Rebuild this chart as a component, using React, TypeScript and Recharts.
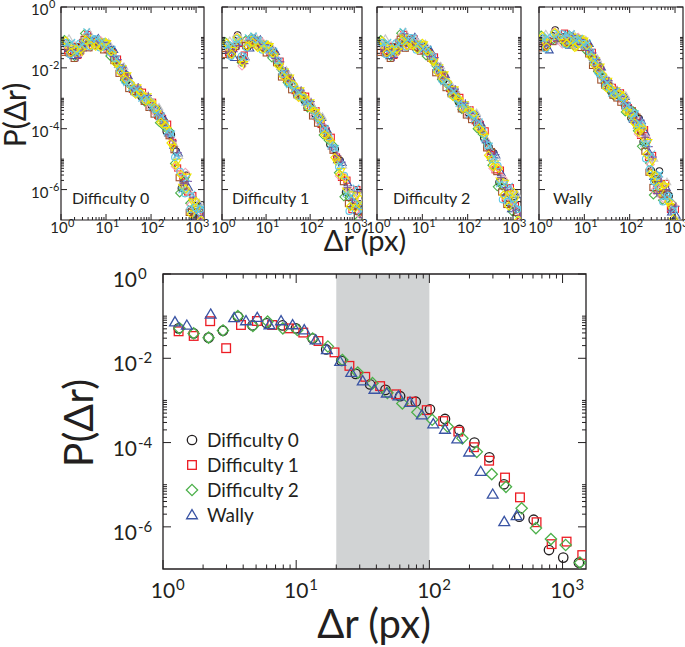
import React from 'react';
import { ScatterChart, Scatter, XAxis, YAxis, ReferenceArea } from 'recharts';

const FONT = 'Lato, "Open Sans", Arial, sans-serif';
const INK = '#231f20';

// ---------- Aggregated data (bottom chart): Δr in px, log10 P(Δr) ----------
const D0_X = [1.31, 1.7, 2.2, 2.82, 3.65, 4.7, 6.0, 7.9, 9.95, 13.3, 16.8, 21.8, 28, 35.9, 46.8, 60.3, 79, 101, 131, 168, 218, 282, 363, 473, 607, 791, 1012, 1327];
const D0_LOGP = [-1.29, -1.41, -1.51, -1.345, -1.01, -1.22, -1.17, -1.22, -1.29, -1.53, -1.79, -2.06, -2.37, -2.62, -2.75, -2.9, -3.03, -3.21, -3.44, -3.7, -4.0, -4.35, -4.99, -5.76, -5.83, -6.55, -6.73, -6.85];

const D1_X = [1.31, 1.7, 2.26, 2.98, 3.85, 5.07, 6.6, 8.8, 11.3, 14.7, 19.4, 25.1, 33, 42.7, 56.3, 73.8, 95.6, 127, 165, 216, 281, 370, 479, 638, 828, 1072, 1406];
const D1_LOGP = [-1.36, -1.47, -1.12, -1.76, -1.21, -1.115, -1.21, -1.29, -1.39, -1.59, -1.86, -2.18, -2.44, -2.66, -2.855, -3.03, -3.23, -3.49, -3.74, -4.11, -4.43, -4.83, -5.3, -5.89, -6.41, -6.35, -6.67];

const D2_X = [1.33, 1.7, 2.2, 2.82, 3.65, 4.73, 6.1, 7.94, 10.2, 13.3, 17.3, 22.2, 29, 37.4, 48.4, 62.7, 81.3, 105, 137, 177, 227, 294, 376, 493, 631, 818, 1055, 1350];
const D2_LOGP = [-1.29, -1.41, -1.51, -1.34, -1.0, -1.234, -1.13, -1.29, -1.33, -1.53, -1.72, -2.04, -2.34, -2.59, -2.82, -3.07, -3.28, -3.46, -3.62, -3.9, -4.22, -4.75, -5.05, -5.56, -6.03, -6.29, -6.43, -6.85];

const D3_X = [1.23, 1.51, 2.28, 3.42, 4.2, 5.1, 6.3, 7.7, 9.4, 11.5, 14, 17, 21.4, 25.9, 31.6, 38.7, 47.9, 58.6, 71.6, 87.7, 107, 131, 162, 199, 243, 299, 365, 452];
const D3_LOGP = [-1.14, -1.22, -0.957, -1.04, -1.115, -1.037, -1.21, -1.115, -1.21, -1.33, -1.57, -1.8, -2.08, -2.34, -2.54, -2.74, -2.83, -2.9, -3.05, -3.35, -3.56, -3.69, -3.92, -4.23, -4.69, -5.23, -5.88, -5.74];

// Wally individual players extend further than the aggregate
const WALLY_TAIL_X = [580, 740, 950];
const WALLY_TAIL_LOGP = [-6.1, -6.45, -6.75];

const SERIES_NAMES = ['Difficulty 0', 'Difficulty 1', 'Difficulty 2', 'Wally'];
const SERIES_COLORS = ['#231f20', '#ed1c24', '#4cb04a', '#3a54a4'];
const SERIES_SHAPES = ['circle', 'square', 'diamond', 'triangle'];
const PANEL_LABELS = ['Difficulty 0', 'Difficulty 1', 'Difficulty 2', 'Wally'];

// ---------- Individual players (top panels): deviations from the panel's aggregate ----------
// shift along Δr (hundredths of a decade) and deviation of log10 P (hundredths of a decade)
const PLAYER_COLORS = ['#231f20', '#ed1c24', '#4cb04a', '#3a54a4', '#f4a6b8', '#c8c8c8', '#a0522d', '#f2e600', '#5ec8e5', '#7b4fa0', '#f2e600', '#5ec8e5'];
const PLAYER_SHAPES = ['circle', 'square', 'diamond', 'triangle', 'diamond', 'triangle', 'square', 'triangleDown', 'circle', 'plus', 'diamond', 'x'];
const PLAYER_XSHIFT = [0, 3, -4, 5, -2, 6, -5, 2, -3, 4, -1, 1];
const PLAYER_DEV = [
  [10, -5, 20, 5, -10, 8, 3, -6, 4, 10, -3, 6, -8, 5, 2, -4, 7, -2, 5, 12, -8, 15, 25, -20, 30, -15, 20, 35, -10, 25, -30],
  [-15, 12, -8, 18, 10, -5, 9, 4, -10, 2, 8, -6, 3, -9, 6, 10, -5, 8, -12, 4, 15, -10, -30, 20, -25, 35, -10, -20, 30, -20, 10],
  [22, 15, -12, -6, 14, 12, -7, 10, 6, -8, 5, 9, -4, 7, -6, 3, -9, 12, 6, -10, 5, 28, -15, -35, 15, 10, -30, 5, -25, 15, 30],
  [-8, -20, 5, 12, -15, 3, 14, -9, 8, 12, -10, 2, 10, -3, 9, -8, 4, -6, 10, 8, -15, -20, 18, 10, -10, -35, 25, -25, 15, -30, -10],
  [5, 8, 15, -18, 6, -10, -4, 12, -5, 6, 12, -9, 6, 11, -10, 7, 10, -10, -4, 15, 10, 8, -25, 30, 40, 5, -15, 15, -20, 10, 25],
  [25, 20, 10, 8, 18, 14, 10, 6, 12, -6, -12, 10, -10, 4, 8, -12, 2, 5, 14, -6, -12, -15, 10, -10, -20, 25, 30, -10, 35, -15, -25],
  [-20, -10, -18, 4, -6, -12, 6, -3, -12, 9, 3, -12, 8, -6, -3, 12, -7, -9, -8, 10, 20, 12, 30, 15, -5, -20, -5, 10, -5, 30, 15],
  [0, 5, -5, -12, 2, 6, -10, 8, 10, -4, -8, 5, 12, -10, 11, -2, 9, 3, -6, -12, -5, -25, -10, -15, 25, 15, 10, -35, 20, -10, -35],
  [12, -15, 8, 15, -12, -8, 12, -12, 3, 4, 10, -3, -6, 9, -8, 6, -3, 10, 8, 6, 18, 20, 5, 35, -30, -10, 15, 20, -30, 25, 5],
  [-12, 0, -15, -10, 12, 10, -2, 5, -8, -10, 6, 8, 4, -7, 12, -6, 12, -4, -10, -14, -18, -5, 20, -5, 10, 30, -25, 0, 10, -25, 20],
  [18, -8, 12, -4, -8, -4, -12, -10, 14, 7, -6, -10, -2, 12, -12, 9, -6, 7, 12, -8, 8, -12, -20, 25, -15, -25, 35, -15, 25, 5, -20],
  [8, 25, -2, 10, 20, 16, 12, 9, -4, 14, 9, 4, -12, -4, 5, -10, 6, -8, -6, 12, -10, 18, 12, -25, 20, 40, -5, 25, -15, 20, 10],
];

// ---------- Axes ----------
const X_DOMAIN = [1, 1500];
const Y_DOMAIN = [1e-7, 1];
const X_MAJOR = [1, 10, 100, 1000];
const X_MAJOR_LABELS = ['0', '1', '2', '3'];
const X_MINOR = [2, 3, 4, 5, 6, 7, 8, 9, 20, 30, 40, 50, 60, 70, 80, 90, 200, 300, 400, 500, 600, 700, 800, 900];
const Y_MAJOR = [1, 1e-2, 1e-4, 1e-6];
const Y_MAJOR_LABELS = ['0', '-2', '-4', '-6'];
const Y_MINOR = [0.1, 0.09, 0.08, 0.07, 0.06, 0.05, 0.04, 0.03, 0.02, 1e-3, 9e-4, 8e-4, 7e-4, 6e-4, 5e-4, 4e-4, 3e-4, 2e-4, 1e-5, 9e-6, 8e-6, 7e-6, 6e-6, 5e-6, 4e-6, 3e-6, 2e-6];
const BAND = [20, 100];

type Pt = { x: number; y: number };

const toPoints = (xs: number[], logp: number[]): Pt[] => xs.map((x, i) => ({ x, y: Math.pow(10, logp[i]) }));

const BOTTOM_SERIES = [
  toPoints(D0_X, D0_LOGP),
  toPoints(D1_X, D1_LOGP),
  toPoints(D2_X, D2_LOGP),
  toPoints(D3_X, D3_LOGP),
];

const TOP_BASES = [
  { x: D0_X, logp: D0_LOGP },
  { x: D1_X, logp: D1_LOGP },
  { x: D2_X, logp: D2_LOGP },
  { x: [...D3_X, ...WALLY_TAIL_X], logp: [...D3_LOGP, ...WALLY_TAIL_LOGP] },
];

const playerPoints = (panel: number, p: number): Pt[] => {
  const b = TOP_BASES[panel];
  const dev = PLAYER_DEV[p];
  return b.x.map((x, i) => ({ x: x * Math.pow(10, PLAYER_XSHIFT[p] / 100), y: Math.pow(10, b.logp[i] + (dev[i] ?? 0) / 100) }));
};

// ---------- Markers ----------
function Marker(props: { cx?: number; cy?: number; kind: string; color: string; r: number; sw: number }) {
  const { cx, cy, kind, color, r, sw } = props;
  if (cx == null || cy == null || isNaN(cx) || isNaN(cy)) return <g />;
  const common = { fill: 'none', stroke: color, strokeWidth: sw };
  switch (kind) {
    case 'circle':
      return <circle cx={cx} cy={cy} r={r} {...common} />;
    case 'square':
      return <rect x={cx - r * 0.92} y={cy - r * 0.92} width={r * 1.84} height={r * 1.84} {...common} />;
    case 'diamond': {
      const d = r * 1.2;
      return <polygon points={`${cx},${cy - d} ${cx + d},${cy} ${cx},${cy + d} ${cx - d},${cy}`} {...common} />;
    }
    case 'triangle': {
      const w = r * 1.15;
      return <polygon points={`${cx},${cy - r * 1.15} ${cx + w},${cy + r * 0.8} ${cx - w},${cy + r * 0.8}`} {...common} />;
    }
    case 'triangleDown': {
      const w = r * 1.15;
      return <polygon points={`${cx},${cy + r * 1.15} ${cx + w},${cy - r * 0.8} ${cx - w},${cy - r * 0.8}`} {...common} />;
    }
    case 'x':
      return (
        <g stroke={color} strokeWidth={sw}>
          <line x1={cx - r} y1={cy - r} x2={cx + r} y2={cy + r} />
          <line x1={cx - r} y1={cy + r} x2={cx + r} y2={cy - r} />
        </g>
      );
    case 'plus':
    default:
      return (
        <g stroke={color} strokeWidth={sw}>
          <line x1={cx - r * 1.15} y1={cy} x2={cx + r * 1.15} y2={cy} />
          <line x1={cx} y1={cy - r * 1.15} x2={cx} y2={cy + r * 1.15} />
        </g>
      );
  }
}

// ---------- Tick rendering ----------
type TickCfg = {
  plotW: number; plotH: number;
  xMajor: number; xMinor: number; yMajor: number; yMinor: number;
  fs: number; fsExp: number;
  xBaseDx: number; xBaseDy: number; xExpDx: number; xExpDy: number;
  yBaseDx: number; yBaseDy: number; yExpDx: number; yExpDy: number;
  showY: boolean;
};

const near = (a: number, b: number) => Math.abs(a - b) <= Math.abs(b) * 1e-6;

function renderXTick(p: any, c: TickCfg) {
  const { x, y, payload } = p;
  const v = payload.value;
  const mi = X_MAJOR.findIndex((m) => near(v, m));
  const major = mi >= 0;
  const len = major ? c.xMajor : c.xMinor;
  const top = y - c.plotH;
  return (
    <g>
      <line x1={x} x2={x} y1={y} y2={y - len} stroke={INK} strokeWidth={1} />
      <line x1={x} x2={x} y1={top} y2={top + len} stroke={INK} strokeWidth={1} />
      {major && (
        <g fontFamily={FONT} fill={INK}>
          <text x={x + c.xBaseDx} y={y + c.xBaseDy} fontSize={c.fs} textAnchor="middle">10</text>
          <text x={x + c.xExpDx} y={y + c.xExpDy} fontSize={c.fsExp} textAnchor="start">{X_MAJOR_LABELS[mi]}</text>
        </g>
      )}
    </g>
  );
}

function renderYTick(p: any, c: TickCfg) {
  const { x, y, payload } = p;
  const v = payload.value;
  const mi = Y_MAJOR.findIndex((m) => near(v, m));
  const major = mi >= 0;
  const len = major ? c.yMajor : c.yMinor;
  const right = x + c.plotW;
  return (
    <g>
      <line x1={x} x2={x + len} y1={y} y2={y} stroke={INK} strokeWidth={1} />
      <line x1={right} x2={right - len} y1={y} y2={y} stroke={INK} strokeWidth={1} />
      {major && c.showY && (
        <g fontFamily={FONT} fill={INK}>
          <text x={x - c.yBaseDx} y={y + c.yBaseDy} fontSize={c.fs} textAnchor="end">10</text>
          <text x={x - c.yExpDx} y={y + c.yExpDy} fontSize={c.fsExp} textAnchor="start">{Y_MAJOR_LABELS[mi]}</text>
        </g>
      )}
    </g>
  );
}

type SeriesSpec = { key: string; data: Pt[]; kind: string; color: string; r: number; sw: number };

function LogChart(props: {
  box: { left: number; top: number; width: number; height: number };
  plot: { left: number; top: number; width: number; height: number };
  cfg: TickCfg;
  band?: number[];
  series: SeriesSpec[];
  frameW: number;
}) {
  const { box, plot, cfg, band, series, frameW } = props;
  const AX = 20;
  const margin = {
    left: plot.left - box.left - AX,
    top: plot.top - box.top,
    right: box.left + box.width - (plot.left + plot.width),
    bottom: box.top + box.height - (plot.top + plot.height) - AX,
  };
  return (
    <div style={{ position: 'absolute', left: box.left, top: box.top, width: box.width, height: box.height }}>
      <ScatterChart width={box.width} height={box.height} margin={margin}>
        <XAxis
          type="number"
          dataKey="x"
          scale="log"
          domain={X_DOMAIN}
          allowDataOverflow
          ticks={[...X_MAJOR, ...X_MINOR]}
          interval={0}
          tick={(p: any) => renderXTick(p, cfg)}
          tickLine={false}
          axisLine={false}
          tickSize={0}
          tickMargin={0}
          height={AX}
        />
        <YAxis
          type="number"
          dataKey="y"
          scale="log"
          domain={Y_DOMAIN}
          allowDataOverflow
          ticks={[...Y_MAJOR, ...Y_MINOR]}
          interval={0}
          tick={(p: any) => renderYTick(p, cfg)}
          tickLine={false}
          axisLine={false}
          tickSize={0}
          tickMargin={0}
          width={AX}
        />
        {band && (
          <ReferenceArea x1={band[0]} x2={band[1]} y1={Y_DOMAIN[0]} y2={Y_DOMAIN[1]} fill="#d1d3d4" fillOpacity={1} stroke="none" />
        )}
        {series.map((s) => (
          <Scatter
            key={s.key}
            name={s.key}
            data={s.data}
            isAnimationActive={false}
            shape={(p: any) => <Marker cx={p.cx} cy={p.cy} kind={s.kind} color={s.color} r={s.r} sw={s.sw} />}
          />
        ))}
        <ReferenceArea x1={X_DOMAIN[0]} x2={X_DOMAIN[1]} y1={Y_DOMAIN[0]} y2={Y_DOMAIN[1]} fill="none" fillOpacity={0} stroke={INK} strokeWidth={frameW} />
      </ScatterChart>
    </div>
  );
}

const TOP_PLOTS = [
  { left: 61, top: 7, width: 143, height: 213 },
  { left: 222, top: 7, width: 140, height: 213 },
  { left: 377, top: 7, width: 144, height: 213 },
  { left: 539, top: 7, width: 144, height: 213 },
];
const TOP_LABEL_X = [72, 232, 393, 553];

const BOTTOM_PLOT = { left: 163, top: 274, width: 423, height: 295 };

export default function App() {
  const topCfg = (i: number, w: number): TickCfg => ({
    plotW: w, plotH: 213,
    xMajor: 6, xMinor: 3, yMajor: 6, yMinor: 3,
    fs: 15, fsExp: 11,
    xBaseDx: -2, xBaseDy: 13, xExpDx: 7, xExpDy: 7,
    yBaseDx: 12.5, yBaseDy: 8, yExpDx: 12, yExpDy: 1,
    showY: i === 0,
  });
  const bottomCfg: TickCfg = {
    plotW: BOTTOM_PLOT.width, plotH: BOTTOM_PLOT.height,
    xMajor: 9, xMinor: 4.5, yMajor: 8, yMinor: 4,
    fs: 21, fsExp: 15,
    xBaseDx: 0, xBaseDy: 29, xExpDx: 13, xExpDy: 21,
    yBaseDx: 26, yBaseDy: 13, yExpDx: 25, yExpDy: 5,
    showY: true,
  };

  return (
    <div style={{ position: 'absolute', left: 0, top: 0, width: 685, height: 647, overflow: 'hidden', background: '#ffffff', fontFamily: FONT }}>
      {TOP_PLOTS.map((plot, i) => (
        <LogChart
          key={'top' + i}
          box={{ left: 0, top: 0, width: 685, height: 250 }}
          plot={plot}
          cfg={topCfg(i, plot.width)}
          frameW={1.2}
          series={PLAYER_COLORS.map((c, p) => ({
            key: `p${i}-${p}`,
            data: playerPoints(i, p),
            kind: PLAYER_SHAPES[p],
            color: c,
            r: 3.3,
            sw: 1.1,
          }))}
        />
      ))}
      <LogChart
        box={{ left: 0, top: 250, width: 685, height: 397 }}
        plot={BOTTOM_PLOT}
        cfg={bottomCfg}
        band={BAND}
        frameW={1.3}
        series={BOTTOM_SERIES.map((d, i) => ({
          key: SERIES_NAMES[i],
          data: d,
          kind: SERIES_SHAPES[i],
          color: SERIES_COLORS[i],
          r: 4.7,
          sw: 1.3,
        }))}
      />
      <svg width={685} height={647} style={{ position: 'absolute', left: 0, top: 0, pointerEvents: 'none' }}>
        <g fontFamily={FONT} fill={INK}>
          {PANEL_LABELS.map((t, i) => (
            <text key={t} x={TOP_LABEL_X[i]} y={204} fontSize={16}>{t}</text>
          ))}
          <text x={26} y={115} fontSize={30} textAnchor="middle" transform="rotate(-90 26 115)">P(Δr)</text>
          <text x={365} y={251} fontSize={29} textAnchor="middle">Δr (px)</text>
          <text x={93} y={423} fontSize={41} textAnchor="middle" transform="rotate(-90 93 423)">P(Δr)</text>
          <text x={374} y={638} fontSize={40} textAnchor="middle">Δr (px)</text>
          {SERIES_NAMES.map((n, i) => (
            <g key={n}>
              <Marker cx={192} cy={440 + i * 25} kind={SERIES_SHAPES[i]} color={SERIES_COLORS[i]} r={4.7} sw={1.3} />
              <text x={207} y={447 + i * 25} fontSize={19}>{n}</text>
            </g>
          ))}
        </g>
      </svg>
    </div>
  );
}
